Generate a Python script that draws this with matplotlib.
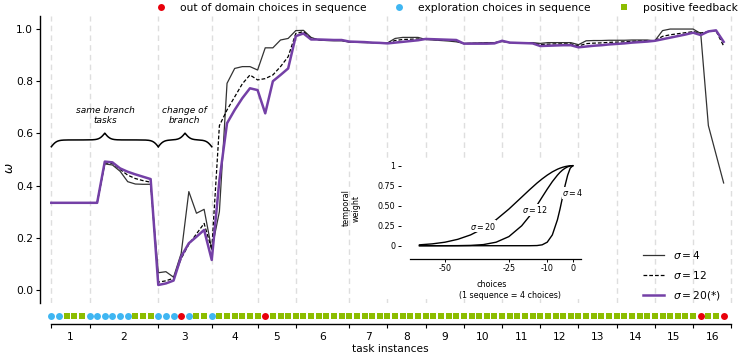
import numpy as np
import matplotlib
matplotlib.use('Agg')
import matplotlib.pyplot as plt
from matplotlib.lines import Line2D
from matplotlib.patches import Rectangle

# ---------------- data ----------------
task_sizes = [5, 9, 7, 6, 5, 7, 5, 5, 5, 5, 5, 5, 5, 5, 5, 5]
task_labels = [str(i) for i in range(1, 17)]
# B = exploration, R = out of domain, G = positive feedback
seq_types = list("BBGGG" "BBBBBBGGG" "BBBRBGG" "BGGGGG" "GRGGG") + ['G'] * 52 + list("GRGGR")

omega_s4 = [0.334, 0.334, 0.334, 0.334, 0.334, 0.334, 0.334, 0.483, 0.479, 0.455,
            0.415, 0.406, 0.405, 0.405, 0.066, 0.070, 0.049, 0.140, 0.377, 0.294,
            0.309, 0.155, 0.300, 0.792, 0.849, 0.856, 0.856, 0.843, 0.928, 0.928,
            0.958, 0.964, 0.994, 0.995, 0.968, 0.958, 0.956, 0.955, 0.955, 0.950,
            0.949, 0.948, 0.948, 0.947, 0.947, 0.964, 0.968, 0.968, 0.968, 0.960,
            0.958, 0.956, 0.954, 0.951, 0.945, 0.946, 0.947, 0.948, 0.948, 0.952,
            0.948, 0.948, 0.948, 0.948, 0.945, 0.948, 0.948, 0.948, 0.948, 0.940,
            0.955, 0.956, 0.956, 0.957, 0.957, 0.957, 0.958, 0.958, 0.958, 0.955,
            0.994, 1.000, 1.000, 1.000, 1.000, 0.983, 0.630, 0.520, 0.410]
omega_s12 = [0.334, 0.334, 0.334, 0.334, 0.334, 0.334, 0.334, 0.487, 0.485, 0.462,
             0.440, 0.427, 0.419, 0.413, 0.030, 0.035, 0.045, 0.120, 0.175, 0.215,
             0.255, 0.155, 0.630, 0.690, 0.740, 0.790, 0.824, 0.805, 0.810, 0.824,
             0.856, 0.894, 0.983, 0.990, 0.964, 0.959, 0.958, 0.957, 0.957, 0.951,
             0.950, 0.949, 0.948, 0.947, 0.946, 0.956, 0.960, 0.961, 0.962, 0.961,
             0.960, 0.958, 0.957, 0.955, 0.944, 0.945, 0.945, 0.946, 0.947, 0.954,
             0.948, 0.948, 0.947, 0.947, 0.940, 0.942, 0.943, 0.943, 0.943, 0.935,
             0.944, 0.946, 0.947, 0.949, 0.950, 0.951, 0.953, 0.954, 0.955, 0.955,
             0.972, 0.978, 0.982, 0.986, 0.990, 0.985, 0.990, 0.993, 0.935]
omega_s20 = [0.334, 0.334, 0.334, 0.334, 0.334, 0.334, 0.334, 0.492, 0.489, 0.466,
             0.453, 0.443, 0.434, 0.425, 0.019, 0.025, 0.036, 0.128, 0.179, 0.204,
             0.230, 0.115, 0.420, 0.639, 0.690, 0.735, 0.773, 0.766, 0.677, 0.800,
             0.824, 0.849, 0.973, 0.983, 0.960, 0.960, 0.959, 0.958, 0.958, 0.952,
             0.951, 0.950, 0.948, 0.947, 0.945, 0.948, 0.951, 0.954, 0.957, 0.962,
             0.961, 0.960, 0.959, 0.958, 0.944, 0.944, 0.944, 0.944, 0.945, 0.955,
             0.948, 0.947, 0.946, 0.945, 0.935, 0.936, 0.937, 0.938, 0.938, 0.930,
             0.933, 0.936, 0.938, 0.941, 0.943, 0.945, 0.948, 0.950, 0.952, 0.955,
             0.961, 0.967, 0.973, 0.979, 0.986, 0.977, 0.991, 0.995, 0.951]

kernel_x = [-60, -55, -50, -45, -40, -35, -30, -25, -20, -17, -14, -12, -10, -8, -6, -5, -4, -3, -2, -1, 0]
kernel_s4 = [0, 0, 0, 0, 0, 0, 0, 0, 0, 0, 0.002, 0.011, 0.044, 0.135, 0.325, 0.458, 0.607, 0.755, 0.882, 0.969, 1.0]
kernel_s12 = [0, 0, 0.0002, 0.001, 0.004, 0.014, 0.044, 0.114, 0.249, 0.367, 0.506, 0.607, 0.707, 0.801, 0.882, 0.917, 0.946, 0.969, 0.986, 0.997, 1.0]
kernel_s20 = [0.011, 0.023, 0.044, 0.080, 0.135, 0.216, 0.325, 0.458, 0.607, 0.697, 0.783, 0.835, 0.882, 0.923, 0.956, 0.969, 0.980, 0.989, 0.995, 0.999, 1.0]

# ---------------- style ----------------
W, H = 743, 358
FS = 7.7
C_RED = '#e8000b'
C_BLUE = '#3fb6f2'
C_GREEN = '#8cbd00'
C_PURPLE = '#7440a6'
C_GRAY = '#333333'
GRID = '#dedede'

plt.rcParams['font.family'] = ['DejaVu Sans']
plt.rcParams['mathtext.fontset'] = 'dejavusans'

fig = plt.figure(figsize=(W / 100, H / 100), dpi=100)


def fx(px):
    return px / W


def fy(py):
    return 1 - py / H


boundaries = np.concatenate([[0], np.cumsum(task_sizes)])
mids = (boundaries[:-1] + boundaries[1:]) / 2.0
idx = np.arange(len(seq_types))
XL = (-1.48, 90.14)

# ---------------- main axes ----------------
ax = fig.add_axes([fx(40), fy(303), fx(700), 287 / H])
ax.set_xlim(*XL)
ax.set_ylim(-0.05, 1.05)
for b in boundaries:
    ax.axvline(b, color=GRID, lw=1.0, ls=(0, (4, 3)), zorder=0)
ax.plot(idx, omega_s4, color=C_GRAY, lw=0.9, zorder=3)
ax.plot(idx, omega_s12, color='k', lw=0.9, ls=(0, (3, 1.6)), zorder=4)
ax.plot(idx, omega_s20, color=C_PURPLE, lw=1.8, zorder=5)
for s in ['top', 'right', 'bottom']:
    ax.spines[s].set_visible(False)
ax.spines['left'].set_linewidth(1.0)
ax.set_xticks([])
ax.set_yticks([0.0, 0.2, 0.4, 0.6, 0.8, 1.0])
ax.set_yticklabels(['0.0', '0.2', '0.4', '0.6', '0.8', '1.0'])
ax.tick_params(axis='y', labelsize=FS, length=3, width=0.8, pad=2)
ax.set_ylabel(r'$\omega$', fontsize=FS + 1)
ax.yaxis.set_label_coords(-0.034, 0.47)


def brace(ax, x0, x1, ybase, h, beta):
    xm = (x0 + x1) / 2.0
    xs = np.linspace(x0, xm, 200)
    yh = 1 / (1 + np.exp(-beta * (xs - x0))) + 1 / (1 + np.exp(-beta * (xs - xm))) - 0.5
    xx = np.concatenate([xs, 2 * xm - xs[::-1]])
    yy = np.concatenate([yh, yh[::-1]])
    ax.plot(xx, ybase + h * yy, color='k', lw=1.1, zorder=6)


brace(ax, boundaries[0], boundaries[2], 0.549, 0.052, 2.8)
brace(ax, boundaries[2], boundaries[3], 0.549, 0.052, 2.8)
ax.text(7.04, 0.667, 'same branch\ntasks', ha='center', va='center',
        fontsize=6.5, style='italic', linespacing=1.15)
ax.text(17.46, 0.667, 'change of\nbranch', ha='center', va='center',
        fontsize=6.5, style='italic', linespacing=1.15)

# sigma legend
h_s = [Line2D([], [], color=C_GRAY, lw=0.9),
       Line2D([], [], color='k', lw=0.9, ls=(0, (3, 1.6))),
       Line2D([], [], color=C_PURPLE, lw=1.8)]
leg2 = ax.legend(h_s, [r'$\sigma = 4$', r'$\sigma = 12$', r'$\sigma = 20$(*)'],
                 loc='upper left', bbox_to_anchor=(fx(643), fy(249)),
                 bbox_transform=fig.transFigure, frameon=False, fontsize=FS,
                 borderpad=0, borderaxespad=0, handlelength=2.0, handletextpad=0.8,
                 labelspacing=0.75)

# ---------------- bottom strip ----------------
axb = fig.add_axes([fx(40), fy(324), fx(700), 19 / H])
axb.set_xlim(*XL)
axb.set_ylim(0, 1)
axb.patch.set_alpha(0)
mk = {'B': ('o', C_BLUE, 5.0), 'R': ('o', C_RED, 5.0), 'G': ('s', C_GREEN, 4.7)}
for t, (m, c, ms) in mk.items():
    xs = [i for i, s in enumerate(seq_types) if s == t]
    axb.plot(xs, [0.42] * len(xs), ls='none', marker=m, color=c, ms=ms, mew=0)
for s in ['top', 'right', 'left']:
    axb.spines[s].set_visible(False)
axb.spines['bottom'].set_bounds(boundaries[0], boundaries[-1])
axb.spines['bottom'].set_linewidth(1.0)
axb.set_yticks([])
axb.set_xticks(boundaries)
axb.set_xticklabels([])
axb.set_xticks(mids, minor=True)
axb.set_xticklabels(task_labels, minor=True)
axb.tick_params(axis='x', which='major', length=3, width=0.8, direction='out')
axb.tick_params(axis='x', which='minor', length=0, pad=5.5, labelsize=FS)
axb.set_xlabel('task instances', fontsize=FS, labelpad=1.5)

# ---------------- top legend ----------------
h_m = [Line2D([], [], ls='none', marker='o', color=C_RED, ms=5.0, mew=0),
       Line2D([], [], ls='none', marker='o', color=C_BLUE, ms=5.0, mew=0),
       Line2D([], [], ls='none', marker='s', color=C_GREEN, ms=4.0, mew=0)]
fig.legend(h_m, ['out of domain choices in sequence', 'exploration choices in sequence',
                 'positive feedback'], loc='center left',
           bbox_to_anchor=(fx(155.6), fy(8)), ncol=3, frameon=False, fontsize=FS,
           borderpad=0, borderaxespad=0, handlelength=1.0, handletextpad=1.28,
           columnspacing=2.55)

# ---------------- inset ----------------
fig.add_artist(Rectangle((fx(352), fy(299)), fx(585 - 352), (299 - 160) / H,
                         transform=fig.transFigure, facecolor='white',
                         edgecolor='none', zorder=1))
axi = fig.add_axes([fx(410), fy(259), fx(170.7), 94.9 / H])
axi.set_zorder(2)
axi.patch.set_alpha(0)
axi.set_xlim(-63.7, 3.1)
axi.set_ylim(-0.166, 1.02)
for yk in (kernel_s4, kernel_s12, kernel_s20):
    axi.plot(kernel_x, yk, color='k', lw=1.0, zorder=2)
for s in ['top', 'right']:
    axi.spines[s].set_visible(False)
axi.spines['left'].set_position(('outward', 6.7))
axi.spines['left'].set_visible(False)
axi.spines['bottom'].set_linewidth(0.9)
FSI = 5.8
axi.set_xticks([-50, -25, -10, 0])
axi.set_xticklabels(['-50', '-25', '-10', '0'])
axi.set_yticks([0, 0.25, 0.5, 0.75, 1.0])
axi.set_yticklabels(['0', '0.25', '0.50', '0.75', '1'])
axi.tick_params(labelsize=FSI, length=2.2, width=0.7, pad=1.5)
axi.set_ylabel('temporal\nweight', fontsize=FSI, linespacing=1.1)
axi.yaxis.set_label_coords(-0.29, 0.537)
axi.text(0.479, -0.267, 'choices', transform=axi.transAxes, ha='center', va='center',
         fontsize=FSI)
axi.text(0.586, -0.387, '(1 sequence = 4 choices)', transform=axi.transAxes,
         ha='center', va='center', fontsize=FSI)
bb = dict(facecolor='white', edgecolor='none', pad=0.3)
axi.text(-35.2, 0.246, r'$\sigma = 20$', ha='center', va='center', fontsize=FSI, bbox=bb, zorder=3)
axi.text(-14.8, 0.45, r'$\sigma = 12$', ha='center', va='center', fontsize=FSI, bbox=bb, zorder=3)
axi.text(0.1, 0.66, r'$\sigma = 4$', ha='center', va='center', fontsize=FSI, bbox=bb, zorder=3)

fig.savefig('out.png', dpi=100)
